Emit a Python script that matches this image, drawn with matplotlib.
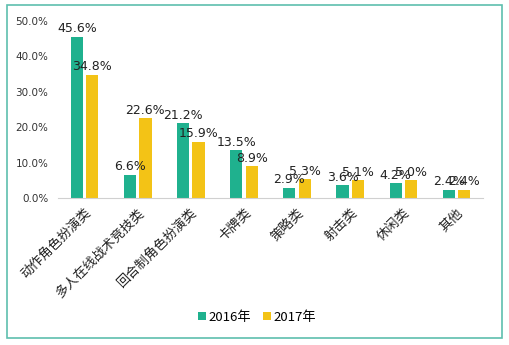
import matplotlib
matplotlib.use("Agg")
import matplotlib.pyplot as plt
import numpy as np
from matplotlib.patches import Rectangle

plt.rcParams["font.family"] = ["Noto Sans CJK SC", "DejaVu Sans"]
NUM_FONT = ["DejaVu Sans"]

CATEGORIES = ["动作角色扮演类", "多人在线战术竞技类", "回合制角色扮演类", "卡牌类",
              "策略类", "射击类", "休闲类", "其他"]
VALUES_2016 = [45.6, 6.6, 21.2, 13.5, 2.9, 3.6, 4.2, 2.4]
VALUES_2017 = [34.8, 22.6, 15.9, 8.9, 5.3, 5.1, 5.0, 2.4]
SERIES_NAMES = ["2016年", "2017年"]
Y_TICKS = [0, 10, 20, 30, 40, 50]

TEAL = "#1fb18e"
YELLOW = "#f3c316"


def main() -> None:
    fig = plt.figure(figsize=(5.09, 3.45), dpi=100)
    ax = fig.add_axes([58 / 509, 1 - 198 / 345, 425 / 509, 177 / 345])

    x = np.arange(len(CATEGORIES))
    width = 0.23
    offset = 0.145
    b1 = ax.bar(x - offset, VALUES_2016, width, color=TEAL, label=SERIES_NAMES[0])
    b2 = ax.bar(x + offset, VALUES_2017, width, color=YELLOW, label=SERIES_NAMES[1])

    for bars, vals in ((b1, VALUES_2016), (b2, VALUES_2017)):
        for bar, v in zip(bars, vals):
            ax.text(bar.get_x() + bar.get_width() / 2, v + 0.4, f"{v:.1f}%",
                    ha="center", va="bottom", fontsize=9, color="#222222",
                    family=NUM_FONT)

    ax.set_xlim(-0.5, len(CATEGORIES) - 0.5)
    ax.set_ylim(0, 50)
    ax.set_yticks(Y_TICKS)
    ax.set_yticklabels([f"{t:.1f}%" for t in Y_TICKS], fontsize=7.5, color="#333333",
                       family=NUM_FONT)
    ax.set_xticks(x)
    ax.set_xticklabels(CATEGORIES, rotation=45, ha="right", rotation_mode="anchor",
                       fontsize=9.5, color="#222222")
    ax.tick_params(axis="x", length=0, pad=6)
    ax.tick_params(axis="y", length=0, pad=7)
    for side in ("top", "right", "left"):
        ax.spines[side].set_visible(False)
    ax.spines["bottom"].set_color("#d0d0d0")

    fig.legend(handles=[b1, b2], labels=SERIES_NAMES, loc="center",
               bbox_to_anchor=(257 / 509, 1 - 317 / 345), ncol=2, frameon=False,
               fontsize=9.5, handlelength=0.6, handleheight=0.6, handletextpad=0.2,
               columnspacing=0.9)

    fig.patches.append(Rectangle((7 / 509, 1 - 338 / 345), 495 / 509, 333 / 345,
                                 transform=fig.transFigure, fill=False,
                                 edgecolor="#5ebfae", linewidth=1.2))

    fig.savefig("out.png", dpi=100)


if __name__ == "__main__":
    main()
